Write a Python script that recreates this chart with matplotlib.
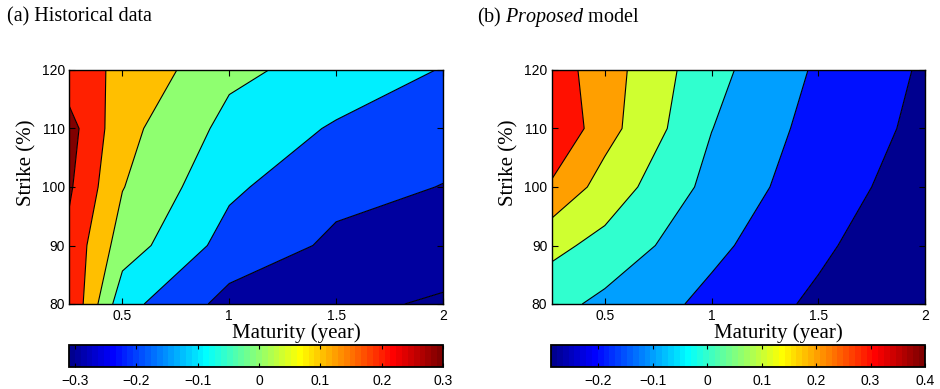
import numpy as np
import matplotlib
matplotlib.use("Agg")
import matplotlib.pyplot as plt
from matplotlib.colors import ListedColormap, Normalize
from matplotlib.cm import ScalarMappable

# Grid: maturities (years) along x, strikes (%) along y
maturities = [0.25, 0.5, 1.0, 1.5, 2.0]
strikes = [80, 90, 100, 110, 120]

# Surface values, one row per strike (80 -> 120), one column per maturity
hist_surface = [
    [0.296, -0.066, -0.233, -0.282, -0.310],
    [0.275,  0.051, -0.139, -0.217, -0.260],
    [0.315,  0.104, -0.082, -0.175, -0.202],
    [0.339,  0.132, -0.029, -0.111, -0.170],
    [0.240,  0.182,  0.021, -0.036, -0.105],
]
model_surface = [
    [0.034, -0.025, -0.125, -0.219, -0.287],
    [0.126,  0.070, -0.078, -0.181, -0.284],
    [0.286,  0.158, -0.030, -0.158, -0.242],
    [0.398,  0.238,  0.002, -0.136, -0.223],
    [0.354,  0.245,  0.031, -0.114, -0.212],
]

hist_levels = [-0.3, -0.2, -0.1, 0.0, 0.1, 0.2, 0.3]
model_levels = [-0.2, -0.1, 0.0, 0.1, 0.2, 0.3]
hist_clim = (-0.31, 0.3)
model_clim = (-0.287, 0.4)
hist_cbar_ticks = [-0.3, -0.2, -0.1, 0, 0.1, 0.2, 0.3]
model_cbar_ticks = [-0.2, -0.1, 0, 0.1, 0.2, 0.3, 0.4]
x_ticks = [0.5, 1, 1.5, 2]
x_tick_labels = ["0.5", "1", "1.5", "2"]
y_ticks = [80, 90, 100, 110, 120]

SERIF = ["Liberation Serif", "DejaVu Serif"]
SANS = ["Liberation Sans", "DejaVu Sans"]

plt.rcParams["mathtext.fontset"] = "custom"
plt.rcParams["mathtext.it"] = "Liberation Serif:italic"
plt.rcParams["mathtext.rm"] = "Liberation Serif"


def jet(m=64):
    """Classic 64-entry jet colour table."""
    n = int(np.ceil(m / 4))
    u = np.concatenate([np.arange(1, n + 1) / n, np.ones(n - 1), np.arange(n, 0, -1) / n])
    g = int(np.ceil(n / 2)) - (1 if m % 4 == 1 else 0) + np.arange(1, len(u) + 1)
    r = g + n
    b = g - n
    table = np.zeros((m, 3))
    for col, idx in enumerate((r, g, b)):
        ok = (idx >= 1) & (idx <= m)
        table[idx[ok] - 1, col] = u[ok]
    return table


JET = jet(64)
CMAP = ListedColormap(JET)


def band_color(value, clim):
    lo, hi = clim
    k = int(np.floor((value - lo) / (hi - lo) * len(JET) + 1e-9))
    k = min(max(k, 0), len(JET) - 1)
    return JET[k]


W, H = 940, 389
fig = plt.figure(figsize=(W / 100, H / 100), dpi=100)


def px_rect(x0, y0, x1, y1):
    return [x0 / W, 1 - y1 / H, (x1 - x0) / W, (y1 - y0) / H]


def draw_panel(ax_rect, cax_rect, Z, levels, clim, cbar_ticks, title, title_x,
               ylabel_x, xlabel_x):
    ax = fig.add_axes(px_rect(*ax_rect))
    Z = np.asarray(Z)
    bounds = [-10.0] + list(levels) + [10.0]
    fills = [band_color(Z.min(), clim)] + [band_color(v, clim) for v in levels]
    ax.contourf(maturities, strikes, Z, levels=bounds, colors=fills, antialiased=True)
    ax.contour(maturities, strikes, Z, levels=levels, colors="k",
               linewidths=0.8, linestyles="solid")
    ax.set_xlim(maturities[0], maturities[-1])
    ax.set_ylim(strikes[0], strikes[-1])
    ax.set_xticks(x_ticks)
    ax.set_xticklabels(x_tick_labels)
    ax.set_yticks(y_ticks)
    ax.tick_params(direction="in", length=4, width=0.8, top=True, right=True,
                   labelsize=10)
    ax.tick_params(axis="x", pad=3.5)
    ax.tick_params(axis="y", pad=3)
    for lab in ax.get_xticklabels() + ax.get_yticklabels():
        lab.set_family(SANS)
    for sp in ax.spines.values():
        sp.set_linewidth(1.0)

    # axis titles
    fig.text(ylabel_x / W, 1 - 163 / H, "Strike (%)", family=SERIF, fontsize=15,
             rotation=90, ha="center", va="center")
    fig.text(xlabel_x / W, 1 - 333.5 / H, "Maturity (year)", family=SERIF,
             fontsize=15, ha="center", va="center")
    fig.text(title_x / W, 1 - 17 / H, title, family=SERIF, fontsize=14.5,
             ha="left", va="center")

    cax = fig.add_axes(px_rect(*cax_rect))
    sm = ScalarMappable(norm=Normalize(*clim), cmap=CMAP)
    cb = fig.colorbar(sm, cax=cax, orientation="horizontal", ticks=cbar_ticks)
    cb.outline.set_linewidth(1.3)
    cax.tick_params(direction="in", length=3, width=0.8, top=True, bottom=True,
                    labelsize=10, pad=5)
    cax.set_xticklabels([f"{t:g}".replace("-", "\u2212") for t in cbar_ticks])
    for lab in cax.get_xticklabels():
        lab.set_family(SANS)
    return ax


draw_panel((69, 70, 443, 304), (69, 345, 443, 367), hist_surface, hist_levels,
           hist_clim, hist_cbar_ticks, "(a) Historical data", 7, 27, 296)
draw_panel((551.5, 70, 925, 304), (551, 345, 925, 367), model_surface, model_levels,
           model_clim, model_cbar_ticks, "(b) $Proposed$ model", 477, 509, 778)

fig.savefig("out.png", dpi=100)
